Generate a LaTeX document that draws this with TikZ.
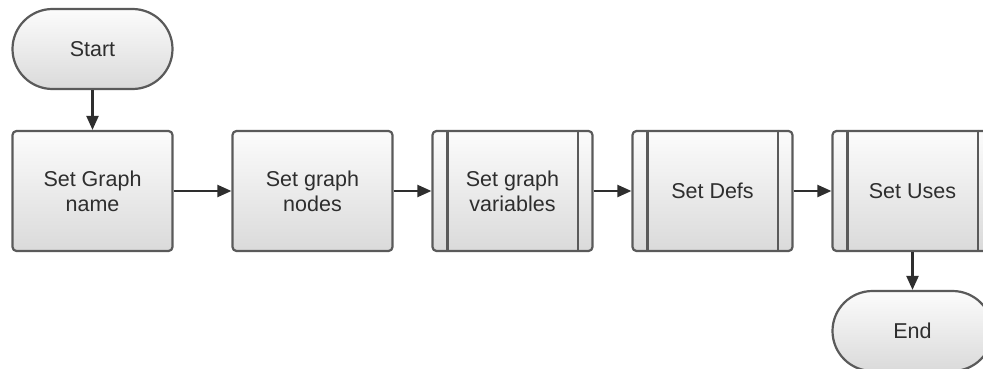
\documentclass[tikz,border=0pt]{standalone}
\usepackage{fontspec}
\setmainfont{Liberation Sans}
\usetikzlibrary{arrows.meta}
\definecolor{edge}{HTML}{5A5A5A}
\definecolor{ink}{HTML}{2E2E2E}
\definecolor{shadetop}{HTML}{FCFCFC}
\definecolor{shadebot}{HTML}{DADADA}
\tikzset{
  base/.style={draw=edge, line width=2.2pt, top color=shadetop, bottom color=shadebot,
    text=ink, align=center, font=\fontsize{21.5}{25}\selectfont,
    minimum width=160pt, inner sep=0pt},
  terminal/.style={base, minimum height=80pt, rounded corners=40pt},
  process/.style={base, minimum height=120pt, rounded corners=4pt},
  flow/.style={draw=ink, line width=2.2pt, -{Triangle[length=14pt,width=12pt]}},
  bar/.style={draw=edge, line width=2.2pt}
}
\begin{document}
\begin{tikzpicture}[x=1pt,y=-1pt]
  \useasboundingbox (0,0) rectangle (983,369);
  \node[terminal] (start) at (92.5,49) {Start};
  \node[process] (name) at (92.5,191) {Set Graph\\name};
  \node[process] (nodes) at (312.5,191) {Set graph\\nodes};
  \node[process] (vars) at (512.5,191) {Set graph\\variables};
  \node[process] (defs) at (712.5,191) {Set Defs};
  \node[process] (uses) at (912.5,191) {Set Uses};
  \node[terminal] (end) at (912.5,331) {End};
  % predefined-process bars
  \foreach \n in {vars,defs,uses}{
    \draw[bar] ([xshift=16pt]\n.north west) -- ([xshift=16pt]\n.south west);
    \draw[bar] ([xshift=-16pt]\n.north east) -- ([xshift=-16pt]\n.south east);
  }
  \draw[flow] (start) -- (name);
  \draw[flow] (name) -- (nodes);
  \draw[flow] (nodes) -- (vars);
  \draw[flow] (vars) -- (defs);
  \draw[flow] (defs) -- (uses);
  \draw[flow] (uses) -- (end);
\end{tikzpicture}
\end{document}
